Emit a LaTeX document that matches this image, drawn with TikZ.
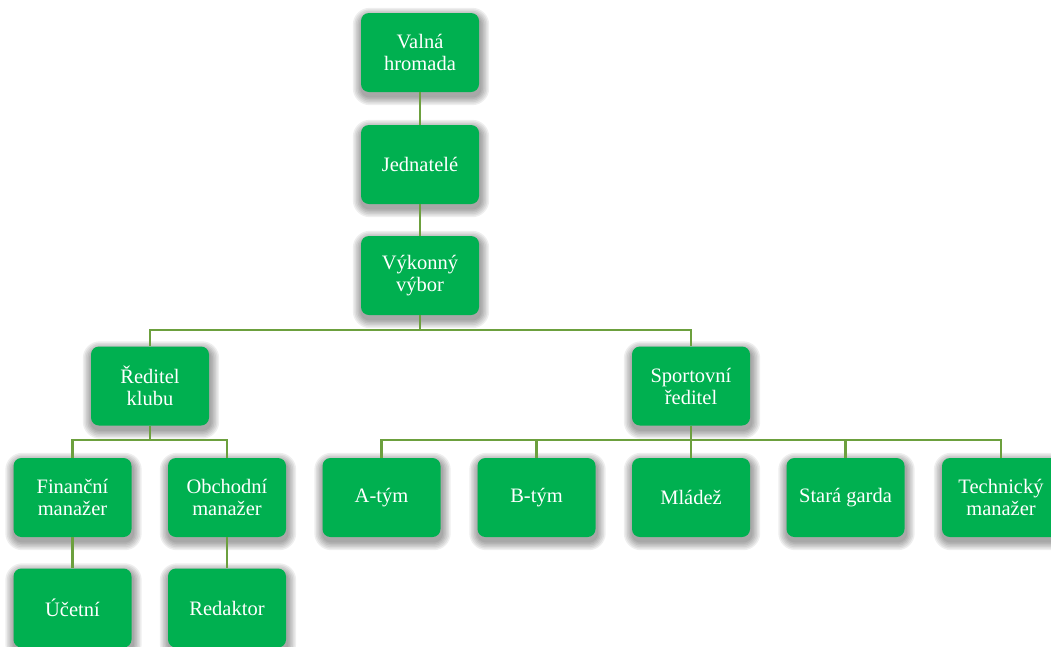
\documentclass[tikz,border=0pt]{standalone}
\usepackage{fontspec}
\setmainfont{Liberation Serif}
\usetikzlibrary{calc}
\pgfdeclarelayer{background}
\pgfsetlayers{background,main}
\definecolor{boxgreen}{RGB}{0,176,80}
\definecolor{linegreen}{RGB}{108,160,62}
\tikzset{
  orgbox/.style={fill=boxgreen, draw=none, rounded corners=8pt, minimum width=118pt, minimum height=79pt,
    text=white, align=center, font=\fontsize{20.5}{22}\selectfont, inner sep=2pt},
  conn/.style={draw=linegreen, line width=2.4pt},
  shadowlayer/.style={fill=black, opacity=0.065}
}
\begin{document}
\begin{tikzpicture}[x=1pt,y=-1pt]
\useasboundingbox (0,0) rectangle (1051,646);
\clip (0,0) rectangle (1051,646);
% nodes
\node[orgbox] (vh) at (420,52.5) {Valná\\hromada};
\node[orgbox] (jd) at (420,164.5) {Jednatelé};
\node[orgbox] (vv) at (420,275.5) {Výkonný\\výbor};
\node[orgbox] (rk) at (150,386) {Ředitel\\klubu};
\node[orgbox] (sr) at (691,386) {Sportovní\\ředitel};
\node[orgbox] (fm) at (72.5,497.5) {Finanční\\manažer};
\node[orgbox] (om) at (227,497.5) {Obchodní\\manažer};
\node[orgbox] (at) at (381.5,497.5) {A-tým};
\node[orgbox] (bt) at (536.5,497.5) {B-tým};
\node[orgbox] (ml) at (691,497.5) {Mládež};
\node[orgbox] (sg) at (845.5,497.5) {Stará garda};
\node[orgbox] (tm) at (1001,497.5) {Technický\\manažer};
\node[orgbox] (uc) at (72.5,608) {Účetní};
\node[orgbox] (rd) at (227,608) {Redaktor};
% soft shadows
\begin{pgfonlayer}{background}
\foreach \n in {vh,jd,vv,rk,sr,fm,om,at,bt,ml,sg,tm,uc,rd}{
  \foreach \e in {1.5,3,4.5,6,7.5,9}{
    \pgfmathsetmacro{\r}{8+\e}
    \fill[shadowlayer, rounded corners=\r pt] ($(\n.south west)+(-\e+1,\e+4)$) rectangle ($(\n.north east)+(\e+1,-\e+4)$);
  }
}
\end{pgfonlayer}
% connectors
\coordinate (b1) at (420,330);
\coordinate (b2) at (150,440);
\coordinate (b3) at (691,440);
\draw[conn] (vh.south) -- (jd.north);
\draw[conn] (jd.south) -- (vv.north);
\draw[conn] (vv.south) -- (b1);
\draw[conn] (b1) -| (rk.north);
\draw[conn] (b1) -| (sr.north);
\draw[conn] (rk.south) -- (b2);
\draw[conn] (b2) -| (fm.north);
\draw[conn] (b2) -| (om.north);
\draw[conn] (sr.south) -- (b3);
\draw[conn] (b3) -| (at.north);
\draw[conn] (b3) -| (bt.north);
\draw[conn] (b3) -- (ml.north);
\draw[conn] (b3) -| (sg.north);
\draw[conn] (b3) -| (tm.north);
\draw[conn] (fm.south) -- (uc.north);
\draw[conn] (om.south) -- (rd.north);
\end{tikzpicture}
\end{document}
